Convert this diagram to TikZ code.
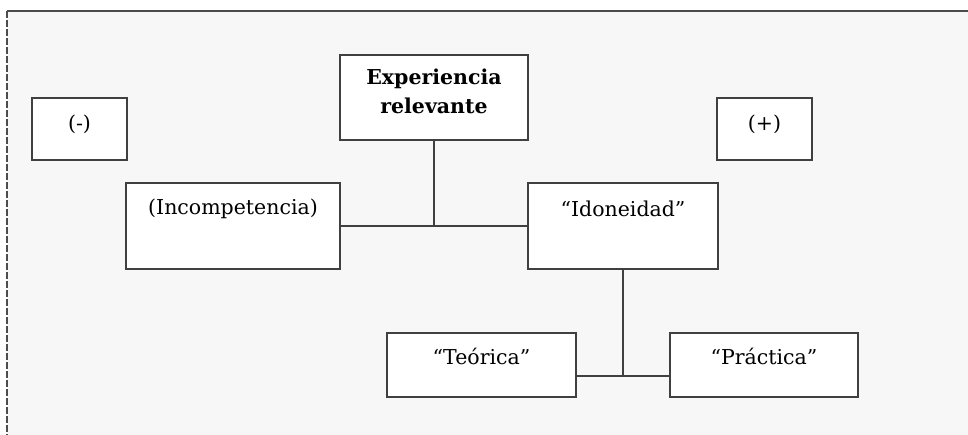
\documentclass[tikz,border=0pt]{standalone}
\usepackage{fontspec}
\setmainfont{DejaVu Serif}
\usepackage{tikz}
\usetikzlibrary{positioning}

\begin{document}
\begin{tikzpicture}[x=1pt, y=-1pt,
     every node/.style={font=\fontsize{20.5}{29}\selectfont},
     frame/.style={line width=1.3pt, draw=black!70},
     bx/.style 2 args={draw=black!75, line width=1.4pt, fill=white, inner sep=0,
        minimum width=#1, minimum height=#2},
     lab/.style 2 args={label={[anchor=center, inner sep=0, align=center, yshift=-#1]north:#2}},
     wire/.style={line width=1.4pt, draw=black!75}
   ]
     \useasboundingbox (0,0) rectangle (968,435);
     \fill[black!3] (7,11) rectangle (968,435);
     \draw[frame] (7,11) -- (968,11);
     \draw[frame, dash pattern=on 7pt off 2pt] (7,11) -- (7,435);

     \node (neg) [bx={95}{62}, lab={27}{(-)}] at (79.5,129) {};
     \node (exp) [bx={188}{85}, lab={37}{\bfseries Experiencia\\\bfseries relevante}] at (434,97.5) {};
     \node (pos) [bx={95}{62}, lab={27}{(+)}] at (764.5,129) {};
     \node (inc) [bx={214}{86}, lab={27}{(Incompetencia)}] at (233,226) {};
     \node (ido) [bx={190}{86}, lab={27}{``Idoneidad''}] at (623,226) {};
     \node (teo) [bx={189}{64}, lab={24}{``Teórica''}] at (481.5,365) {};
     \node (pra) [bx={188}{64}, lab={24}{``Práctica''}] at (764,365) {};

     \coordinate (j1) at (exp.south |- inc.east);
     \coordinate (j2) at ([yshift=-11]ido.south |- teo.east);
     \draw[wire] (exp.south) -- (j1);
     \draw[wire] (inc.east) -- (ido.west);
     \draw[wire] (ido.south) -- (j2);
     \draw[wire] (teo.east |- j2) -- (pra.west |- j2);
  \end{tikzpicture}
\end{document}
